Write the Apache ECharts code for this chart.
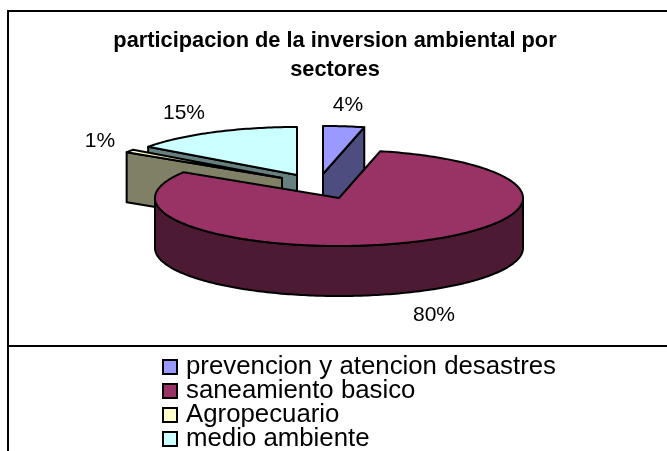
<!DOCTYPE html>
<html>
<head>
<meta charset="utf-8">
<style>
  html, body { margin: 0; padding: 0; background: #fff; }
  #main { width: 667px; height: 451px; }
</style>
<script src="https://cdn.jsdelivr.net/npm/echarts@6/dist/echarts.min.js"></script>
</head>
<body>
<div id="main"></div>
<script>
// data
const categories = ['prevencion y atencion desastres', 'saneamiento basico', 'Agropecuario', 'medio ambiente'];
const shares = [3.6, 80.4, 1, 15];
const titleLines = 'participacion de la inversion ambiental por\nsectores';

// colours per slice
const topColors = ['#9999ff', '#993366', '#ffffcc', '#ccffff'];
const sideColors = ['#4d4d80', '#4d1a33', '#808066', '#668080'];

// pseudo 3d pie layout (excel style)
const center = { x: 339, y: 198 };
const rx = 184, ry = 48, depth = 50;
const explode = [[-16, -24], [0, 0], [-57, -20], [-42, -23]];
const labelPos = [[348, 105], [434, 315], [100, 141], [184, 113]];

const total = shares.reduce((a, b) => a + b, 0);
const startAngles = shares.map((v, i) => shares.slice(0, i).reduce((a, b) => a + b, 0) / total * 360);

const rimPoint = (c, deg, drop) => {
  const t = deg * Math.PI / 180;
  return [c.x + rx * Math.sin(t), c.y - ry * Math.cos(t) + (drop || 0)];
};
const arc = (c, from, to, drop) => {
  const pts = [];
  const n = Math.max(2, Math.ceil(Math.abs(to - from)));
  for (let k = 0; k <= n; k++) pts.push(rimPoint(c, from + (to - from) * k / n, drop));
  return pts;
};

const lineStyle = (fill) => ({ fill: fill, stroke: '#000', lineWidth: 2, lineJoin: 'round' });

function renderSlice(params, api) {
  const i = api.value(0);
  const from = startAngles[i];
  const to = from + api.value(1) / total * 360;
  const c = { x: center.x + explode[i][0], y: center.y + explode[i][1] };
  const below = { x: c.x, y: c.y + depth };
  const children = [];

  // radial wall on the start edge, seen when the slice runs away to the upper left
  if (from > 180) {
    children.push({
      type: 'polygon',
      shape: { points: [[c.x, c.y], rimPoint(c, from), rimPoint(c, from, depth), [below.x, below.y]] },
      style: lineStyle(sideColors[i])
    });
  }
  // radial wall on the end edge, seen on the upper right
  if (to < 90) {
    children.push({
      type: 'polygon',
      shape: { points: [[c.x, c.y], rimPoint(c, to), rimPoint(c, to, depth), [below.x, below.y]] },
      style: lineStyle(sideColors[i])
    });
  }
  // front rim
  const frontFrom = Math.max(from, 90), frontTo = Math.min(to, 270);
  if (frontTo > frontFrom) {
    children.push({
      type: 'polygon',
      shape: { points: arc(c, frontFrom, frontTo).concat(arc(c, frontTo, frontFrom, depth)) },
      style: lineStyle(sideColors[i])
    });
  }
  // top face
  children.push({
    type: 'polygon',
    shape: { points: [[c.x, c.y]].concat(arc(c, from, to)) },
    style: lineStyle(topColors[i])
  });
  // percent label
  children.push({
    type: 'text',
    style: {
      x: labelPos[i][0], y: labelPos[i][1],
      text: Math.round(api.value(1) / total * 100) + '%',
      fill: '#000', font: '21px "Liberation Sans"',
      align: 'center', verticalAlign: 'middle'
    }
  });
  return { type: 'group', children: children };
}

// far slices first so the big one covers them
const drawOrder = [3, 2, 0, 1];

const chart = echarts.init(document.getElementById('main'), null, { renderer: 'canvas' });
chart.setOption({
  animation: false,
  title: {
    text: titleLines,
    left: 330, top: 21,
    textAlign: 'center',
    textStyle: { fontFamily: 'Liberation Sans', fontWeight: 'bold', fontSize: 21.8, lineHeight: 29, color: '#000' }
  },
  legend: {
    data: categories,
    orient: 'vertical',
    left: 162, top: 354,
    height: 200,
    padding: 0,
    itemWidth: 14, itemHeight: 14, itemGap: -2,
    icon: 'rect',
    selectedMode: false,
    itemStyle: { borderColor: '#000', borderWidth: 2 },
    textStyle: { fontFamily: 'Liberation Sans', fontSize: 25.8, color: '#000', height: 14, lineHeight: 14, padding: [0, 0, 0, 4] }
  },
  graphic: [
    { type: 'polyline', shape: { points: [[667, 11], [8, 11], [8, 451]] }, style: { stroke: '#000', lineWidth: 2, fill: null } },
    { type: 'line', shape: { x1: 8, y1: 346, x2: 667, y2: 346 }, style: { stroke: '#000', lineWidth: 2 } }
  ],
  series: drawOrder.map((i) => ({
    type: 'custom',
    name: categories[i],
    coordinateSystem: 'none',
    silent: true,
    itemStyle: { color: topColors[i] },
    renderItem: renderSlice,
    data: [[i, shares[i]]]
  }))
});
</script>
</body>
</html>
